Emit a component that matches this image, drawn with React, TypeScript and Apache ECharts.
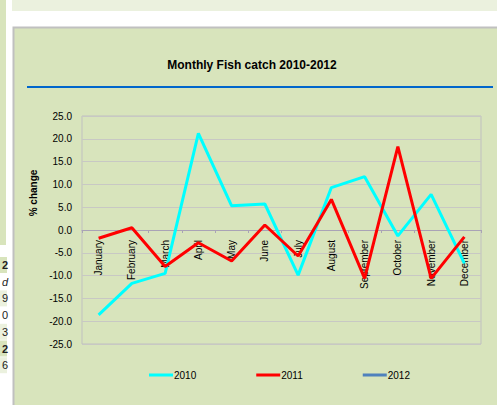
import React, { useEffect, useRef } from "react";
import * as echarts from "echarts";

const months = [
  "January", "February", "March", "April", "May", "June",
  "July", "August", "September", "October", "November", "December",
];
const series2010 = [-18.6, -11.7, -9.5, 21.2, 5.3, 5.7, -9.9, 9.3, 11.7, -1.3, 7.8, -7.3];
const series2011 = [-1.8, 0.5, -8.0, -2.8, -6.8, 1.1, -5.7, 6.7, -10.6, 18.3, -10.6, -1.5];
const series2012: (number | null)[] = [];
const seriesNames = ["2010", "2011", "2012"];
const yMin = -25;
const yMax = 25;
const yStep = 5;
const titleText = "Monthly Fish catch 2010-2012";
const yAxisTitle = "% change";
const sideCells = ["2", "d", "9", "0", "3", "2", "6"];

const FONT = "'Liberation Sans', Arial, sans-serif";

export default function App() {
  const ref = useRef<HTMLDivElement>(null);
  useEffect(() => {
    if (!ref.current) return;
    const chart = echarts.init(ref.current, undefined, { renderer: "svg" });
    const cellBg = ["#d8e4bc", "#ffffff", "#ebf1de", "#ffffff", "#ebf1de", "#d8e4bc", "#ebf1de"];
    const sideGraphics: any[] = [];
    sideCells.forEach((t, i) => {
      const y = 257 + i * 16.7;
      sideGraphics.push({
        type: "rect", z: -5,
        shape: { x: 0, y, width: 7, height: 16 },
        style: { fill: cellBg[i] },
      });
      sideGraphics.push({
        type: "text", z: 50, x: 8, y: y + 8,
        style: {
          text: t, align: "right", verticalAlign: "middle",
          fontSize: 11, fontFamily: FONT,
          fontWeight: i === 0 || i === 5 ? "bold" : "normal",
          fontStyle: i === 1 ? "italic" : "normal",
          fill: "#222",
        },
      });
    });
    // plot spans y 116..344 for -25..25; zero line is at the middle
    const plotTop = 116;
    const plotBottom = 344;
    const zeroY = plotTop + ((yMax - 0) / (yMax - yMin)) * (plotBottom - plotTop);
    chart.setOption({
      animation: false,
      backgroundColor: "#ffffff",
      textStyle: { fontFamily: FONT },
      graphic: [
        { type: "rect", z: -10, shape: { x: 0, y: 0, width: 6, height: 245 }, style: { fill: "#d8e4bc" } },
        { type: "rect", z: -10, shape: { x: 12, y: 0, width: 485, height: 11 }, style: { fill: "#ebf1de" } },
        {
          type: "rect", z: -10,
          shape: { x: 13.5, y: 27.5, width: 500, height: 400 },
          style: { fill: "#d8e4bc", stroke: "#c0c0c0", lineWidth: 2 },
        },
        ...sideGraphics,
        {
          type: "text", z: 50, x: 252, y: 65,
          style: {
            text: titleText, align: "center", verticalAlign: "middle",
            fontSize: 12, fontWeight: "bold", fontFamily: FONT, fill: "#000",
          },
        },
        {
          type: "line", z: 50,
          shape: { x1: 27, y1: 87, x2: 493, y2: 87 },
          style: { stroke: "#0066cc", lineWidth: 2 },
        },
        {
          type: "text", z: 50, x: 33, y: 193, rotation: Math.PI / 2,
          style: {
            text: yAxisTitle, align: "center", verticalAlign: "middle",
            fontSize: 10, fontWeight: "bold", fontFamily: FONT, fill: "#000",
          },
        },
      ],
      grid: {
        left: 82, right: 16, top: plotTop, bottom: 405 - plotBottom,
        show: true, borderColor: "#c0c0c0", borderWidth: 1,
        backgroundColor: "transparent",
      },
      legend: {
        left: 149, top: 370, padding: 0, itemWidth: 24, itemHeight: 3, itemGap: 60,
        icon: "rect",
        data: seriesNames,
        textStyle: { fontSize: 10, color: "#000", fontFamily: FONT, padding: [0, 0, 0, -4] },
      },
      xAxis: {
        type: "category",
        data: months,
        boundaryGap: true,
        offset: -(plotBottom - zeroY),
        axisLine: { onZero: false, lineStyle: { color: "#a9a3b6", width: 1 } },
        axisTick: { show: true, length: 3, lineStyle: { color: "#a9a3b6" } },
        axisLabel: {
          rotate: 90, margin: 10, fontSize: 10, color: "#000", fontFamily: FONT, interval: 0,
        },
        splitLine: { show: false },
      },
      yAxis: {
        type: "value",
        min: yMin, max: yMax, interval: yStep,
        axisLine: { show: false },
        axisTick: { show: false },
        axisLabel: {
          fontSize: 10, color: "#000", margin: 10, fontFamily: FONT,
          formatter: (v: number) => v.toFixed(1),
        },
        splitLine: { lineStyle: { color: "#c8c8c4", width: 1 } },
      },
      series: [
        {
          name: seriesNames[0], type: "line", data: series2010, symbol: "none",
          lineStyle: { color: "#00ffff", width: 3 }, itemStyle: { color: "#00ffff" },
        },
        {
          name: seriesNames[1], type: "line", data: series2011, symbol: "none",
          lineStyle: { color: "#ff0000", width: 3 }, itemStyle: { color: "#ff0000" },
        },
        {
          name: seriesNames[2], type: "line", data: series2012, symbol: "none",
          lineStyle: { color: "#4f81bd", width: 3 }, itemStyle: { color: "#4f81bd" },
        },
      ],
    });
    return () => chart.dispose();
  }, []);
  return (
    <div
      ref={ref}
      style={{ position: "fixed", left: 0, top: 0, width: 497, height: 405 }}
    />
  );
}
